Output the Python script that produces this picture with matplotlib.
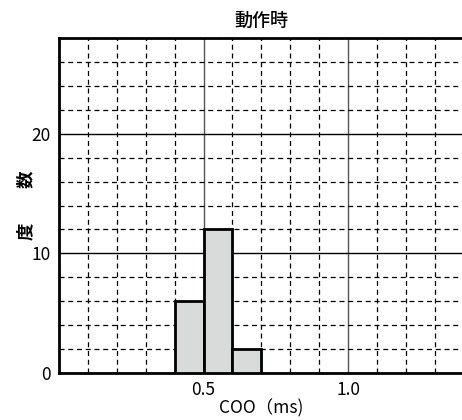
import matplotlib
matplotlib.use("Agg")
import matplotlib.pyplot as plt
from matplotlib.ticker import MultipleLocator

plt.rcParams['font.family'] = ['Noto Sans CJK JP', 'DejaVu Sans']

# histogram data
bin_left = [0.4, 0.5, 0.6]
bin_width = 0.1
counts = [6, 12, 2]

title = "動作時"
xlabel = "COO（ms)"
ylabel = "度　　数"

fig = plt.figure(figsize=(4.62, 4.2), dpi=100)
ax = fig.add_axes([59 / 462, 1 - 373 / 420, 404.6 / 462, 335 / 420])

ax.set_xlim(0, 1.4)
ax.set_ylim(0, 28)
ax.xaxis.set_major_locator(MultipleLocator(0.5))
ax.xaxis.set_minor_locator(MultipleLocator(0.1))
ax.yaxis.set_major_locator(MultipleLocator(10))
ax.yaxis.set_minor_locator(MultipleLocator(2))
ax.set_xticks([0.5, 1.0])
ax.set_xticklabels(["0.5", "1.0"])

ax.grid(which='minor', color='black', linestyle=(0, (4, 3)), linewidth=0.9)
ax.grid(which='major', axis='x', color='#555555', linestyle='-', linewidth=1.0)
ax.grid(which='major', axis='y', color='black', linestyle='-', linewidth=1.0)
ax.set_axisbelow(True)

ax.bar(bin_left, counts, width=bin_width, align='edge',
       color='#d9dbdb', edgecolor='black', linewidth=2, zorder=3)

ax.tick_params(which='both', length=0, labelsize=12.5, pad=6)
for s in ax.spines.values():
    s.set_linewidth(2)
    s.set_color('black')

ax.set_title(title, fontsize=13, fontweight='medium', pad=9)
ax.set_xlabel(xlabel, fontsize=12.5, labelpad=0)
ax.set_ylabel(ylabel, fontsize=12.5, fontweight='bold', labelpad=-3)

fig.savefig("out.png", dpi=100)
